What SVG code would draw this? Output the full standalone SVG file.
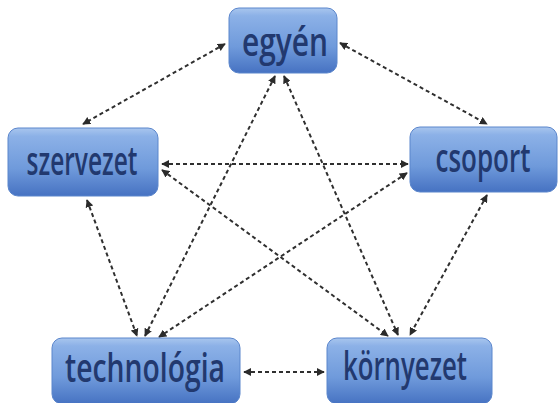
<svg xmlns="http://www.w3.org/2000/svg" width="560" height="403" viewBox="0 0 560 403">
  <defs>
    <linearGradient id="boxGrad" x1="0" y1="0" x2="0" y2="1">
      <stop offset="0" stop-color="#a9c6ee"/>
      <stop offset="0.12" stop-color="#8cb1e7"/>
      <stop offset="0.6" stop-color="#6f9adb"/>
      <stop offset="1" stop-color="#4672c2"/>
    </linearGradient>
    <marker id="arr" viewBox="0 0 10 10" refX="9" refY="5" markerWidth="4" markerHeight="4" orient="auto-start-reverse" markerUnits="strokeWidth">
      <path d="M0,0 L10,5 L0,10 Z" fill="#2b2b2b"/>
    </marker>
  </defs>
  <style>
    .box { fill: url(#boxGrad); stroke: #5b86cc; stroke-width: 1; }
    .lbl { font-family: "Open Sans", "Liberation Sans", sans-serif; font-size: 40px; font-weight: 600; fill: #22396f; text-anchor: middle; }
    .con { fill: none; stroke: #2f2f2f; stroke-width: 2; stroke-dasharray: 4 3; marker-start: url(#arr); marker-end: url(#arr); }
  </style>
  <rect width="560" height="403" fill="#ffffff"/>

  <g id="connectors">
    <line class="con" x1="225" y1="44" x2="83" y2="124"/>
    <line class="con" x1="340" y1="43" x2="487" y2="124"/>
    <line class="con" x1="275" y1="76" x2="145" y2="336"/>
    <line class="con" x1="284" y1="76" x2="398" y2="335"/>
    <line class="con" x1="162" y1="164" x2="408" y2="164"/>
    <line class="con" x1="162" y1="170" x2="388" y2="336"/>
    <line class="con" x1="407" y1="173" x2="159" y2="337"/>
    <line class="con" x1="87" y1="200" x2="137" y2="336"/>
    <line class="con" x1="487" y1="195" x2="410" y2="335"/>
    <line class="con" x1="244" y1="372" x2="324" y2="372"/>
  </g>

  <g id="egyen">
    <rect class="box" x="229" y="8" width="108" height="65" rx="10"/>
    <text class="lbl" transform="translate(285,56) scale(0.77,1)" x="0" y="0" textLength="111.7" lengthAdjust="spacingAndGlyphs">egyén</text>
  </g>
  <g id="szervezet">
    <rect class="box" x="8" y="128" width="150" height="68" rx="10"/>
    <text class="lbl" transform="translate(82,175) scale(0.63,1)" x="0" y="0" textLength="176.2" lengthAdjust="spacingAndGlyphs">szervezet</text>
  </g>
  <g id="csoport">
    <rect class="box" x="410" y="127" width="147" height="65" rx="10"/>
    <text class="lbl" transform="translate(483,172) scale(0.655,1)" x="0" y="0" textLength="145" lengthAdjust="spacingAndGlyphs">csoport</text>
  </g>
  <g id="technologia">
    <rect class="box" x="52" y="338" width="188" height="66" rx="10"/>
    <text class="lbl" transform="translate(145,382) scale(0.72,1)" x="0" y="0" textLength="222.2" lengthAdjust="spacingAndGlyphs">technológia</text>
  </g>
  <g id="kornyezet">
    <rect class="box" x="327" y="338" width="165" height="66" rx="10"/>
    <text class="lbl" transform="translate(405,380) scale(0.66,1)" x="0" y="0" textLength="187.9" lengthAdjust="spacingAndGlyphs">környezet</text>
  </g>
</svg>
